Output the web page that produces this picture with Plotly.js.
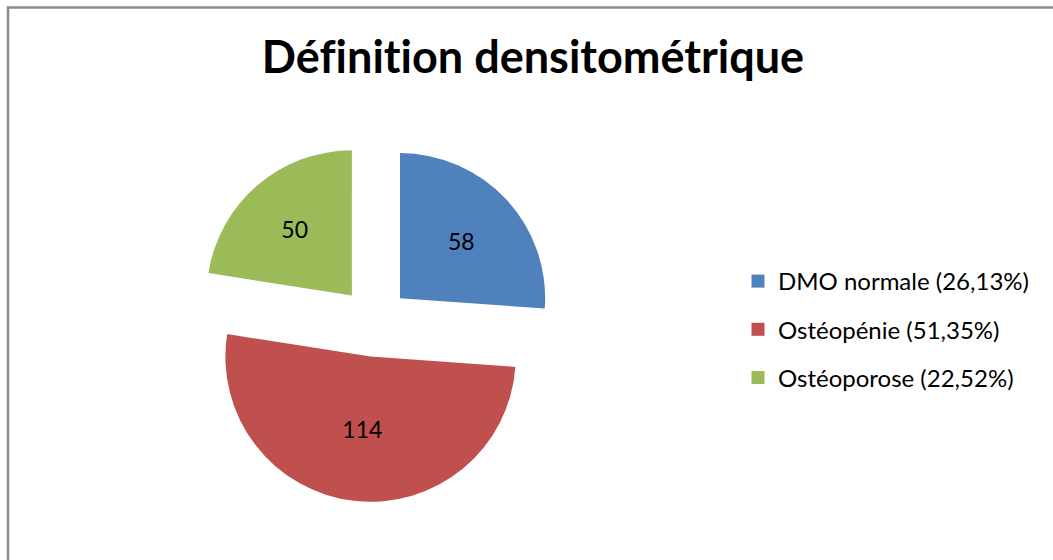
<!DOCTYPE html>
<html>
<head>
<meta charset="utf-8">
<script src="https://cdn.plot.ly/plotly-3.0.1.min.js"></script>
<style>html,body{margin:0;padding:0;background:#fff;}#chart{width:1053px;height:560px;}
#chart text{font-variant-ligatures:none;font-feature-settings:"liga" 0;}</style>
</head>
<body>
<div id="chart"></div>
<script>
var categories = ["DMO normale", "Ostéopénie", "Ostéoporose"];
var counts = [58, 114, 50];
var legendLabels = ["DMO normale (26,13%)", "Ostéopénie (51,35%)", "Ostéoporose (22,52%)"];
var sliceColors = ["#4f81bd", "#c0504d", "#9bbb59"];
var pulls = [0.24, 0.24, 0.24];

var traces = [{
  type: "pie",
  labels: categories,
  values: counts,
  sort: false,
  direction: "clockwise",
  rotation: 0,
  pull: pulls,
  text: counts.map(String),
  textinfo: "text",
  textposition: "inside",
  insidetextorientation: "horizontal",
  textfont: {family: "Lato, 'Open Sans', sans-serif", size: 23, color: "#000"},
  marker: {colors: sliceColors, line: {width: 0}},
  showlegend: false,
  domain: {x: [194.5/1053, 554.5/1053], y: [58/560, 418/560]},
  hoverinfo: "label+value+percent"
}];

for (var i = 0; i < categories.length; i++) {
  traces.push({
    type: "scatter",
    mode: "markers",
    x: [null], y: [null],
    name: legendLabels[i],
    legendgroup: "g" + i,
    marker: {symbol: "square", size: 13, color: sliceColors[i]},
    showlegend: true,
    hoverinfo: "skip"
  });
}

var layout = {
  width: 1053, height: 560,
  margin: {l: 0, r: 0, t: 0, b: 0},
  paper_bgcolor: "#fff",
  plot_bgcolor: "rgba(0,0,0,0)",
  title: {
    text: "<b>Définition densitométrique</b>",
    font: {family: "Lato, 'Open Sans', sans-serif", size: 45, color: "#000"},
    x: 533/1053, xanchor: "center",
    y: 1 - 57/560, yanchor: "middle", yref: "container"
  },
  xaxis: {visible: false, range: [0, 1]},
  yaxis: {visible: false, range: [0, 1]},
  showlegend: true,
  legend: {
    x: 738/1053, xanchor: "left",
    y: 1 - 259/560, yanchor: "top",
    font: {family: "Lato, 'Open Sans', sans-serif", size: 24, color: "#000"},
    tracegroupgap: 14,
    bgcolor: "rgba(0,0,0,0)",
    borderwidth: 0
  },
  shapes: [{
    type: "rect", xref: "paper", yref: "paper",
    x0: 8/1053, x1: 1.02, y0: -0.02, y1: 1 - 7.5/560,
    line: {color: "#8c8c8c", width: 2.5},
    fillcolor: "rgba(0,0,0,0)"
  }]
};

Plotly.newPlot("chart", traces, layout, {displayModeBar: false, staticPlot: true});
</script>
</body>
</html>
